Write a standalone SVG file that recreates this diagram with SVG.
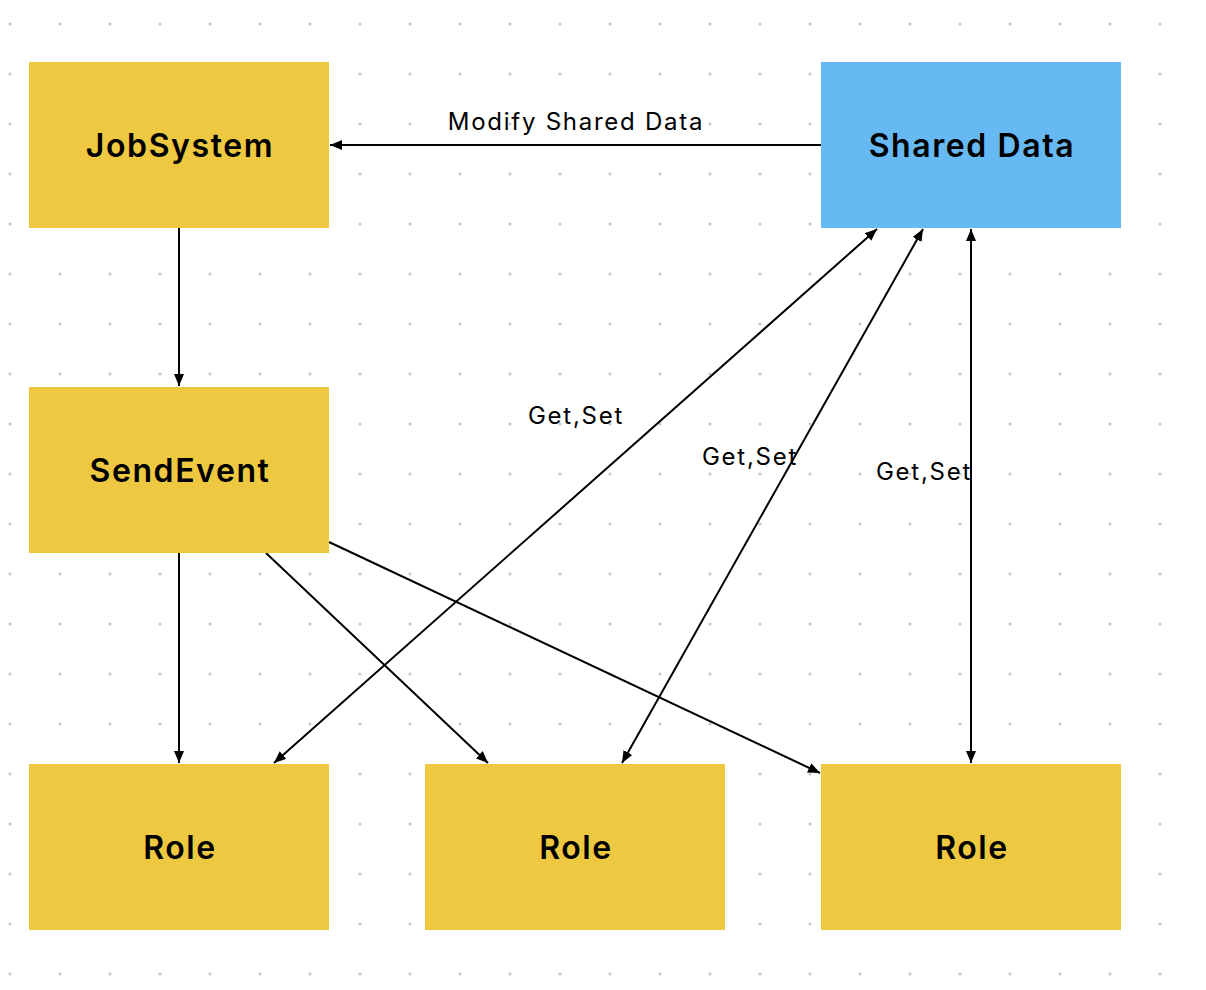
<svg xmlns="http://www.w3.org/2000/svg" width="1206" height="990" viewBox="0 0 1206 990">
<defs>
<pattern id="dots" x="10" y="24" width="50" height="50" patternUnits="userSpaceOnUse">
<circle cx="0" cy="0" r="1.6" fill="#c8c8c8"/>
<circle cx="50" cy="0" r="1.6" fill="#c8c8c8"/>
<circle cx="0" cy="50" r="1.6" fill="#c8c8c8"/>
<circle cx="50" cy="50" r="1.6" fill="#c8c8c8"/>
</pattern>
<marker id="arr" viewBox="0 0 12 10" refX="12" refY="5" markerWidth="12" markerHeight="10" markerUnits="userSpaceOnUse" orient="auto-start-reverse">
<path d="M0,0 L12,5 L0,10 Z" fill="#000"/>
</marker>
<style>
.n{fill:#EDC840}
.b{fill:#67B9F4}
.t{font-family:Inter,"Noto Sans",sans-serif;font-size:32px;font-weight:600;fill:#000;text-anchor:middle;dominant-baseline:central;letter-spacing:1.6px}
.l{font-family:Inter,"Noto Sans",sans-serif;font-size:24px;fill:#000;text-anchor:middle;letter-spacing:1.75px}
.c{stroke:#000;stroke-width:2;fill:none}
</style>
</defs>
<rect width="1206" height="990" fill="#fff"/>
<rect x="0" y="0" width="1206" height="990" fill="url(#dots)"/>
<g id="connectors">
<line class="c" x1="821" y1="145" x2="330" y2="145" marker-end="url(#arr)"/>
<line class="c" x1="179" y1="228" x2="179" y2="386" marker-end="url(#arr)"/>
<line class="c" x1="179" y1="553" x2="179" y2="763" marker-end="url(#arr)"/>
<line class="c" x1="266" y1="553" x2="488" y2="763" marker-end="url(#arr)"/>
<line class="c" x1="329" y1="542" x2="820" y2="773" marker-end="url(#arr)"/>
<line class="c" x1="274" y1="763" x2="877" y2="229" marker-start="url(#arr)" marker-end="url(#arr)"/>
<line class="c" x1="622" y1="763" x2="923" y2="229" marker-start="url(#arr)" marker-end="url(#arr)"/>
<line class="c" x1="971" y1="763" x2="971" y2="229" marker-start="url(#arr)" marker-end="url(#arr)"/>
<text class="l" x="576" y="130">Modify Shared Data</text>
<text class="l" x="576" y="424">Get,Set</text>
<text class="l" x="750" y="465">Get,Set</text>
<text class="l" x="924" y="480">Get,Set</text>
</g>
<g id="jobsystem"><rect class="n" x="29" y="62" width="300" height="166"/><text class="t" x="180" y="145">JobSystem</text></g>
<g id="shareddata"><rect class="b" x="821" y="62" width="300" height="166"/><text class="t" x="972" y="145">Shared Data</text></g>
<g id="sendevent"><rect class="n" x="29" y="387" width="300" height="166"/><text class="t" x="180" y="470">SendEvent</text></g>
<g id="role1"><rect class="n" x="29" y="764" width="300" height="166"/><text class="t" x="180" y="847">Role</text></g>
<g id="role2"><rect class="n" x="425" y="764" width="300" height="166"/><text class="t" x="576" y="847">Role</text></g>
<g id="role3"><rect class="n" x="821" y="764" width="300" height="166"/><text class="t" x="972" y="847">Role</text></g>
</svg>
